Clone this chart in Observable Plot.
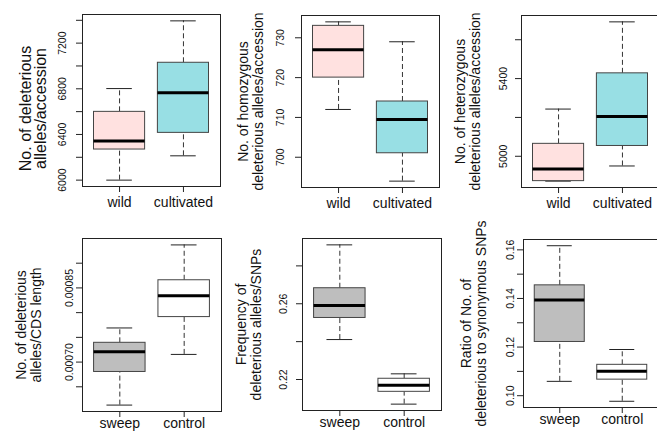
<!DOCTYPE html>
<html><head><meta charset="utf-8">
<script src="https://cdn.jsdelivr.net/npm/d3@7"></script>
<script src="https://cdn.jsdelivr.net/npm/@observablehq/plot@0.6"></script>
<style>
html,body{margin:0;padding:0;background:#fff;}
#chart{position:relative;width:657px;height:435px;overflow:hidden;background:#fff;}
#chart svg{position:absolute;}
</style></head><body><div id="chart"></div>
<script>
// ---- data ----
const topCategories = ["wild", "cultivated"];
const bottomCategories = ["sweep", "control"];
// five-number summaries: [lower whisker, lower hinge, median, upper hinge, upper whisker]
const delAllelesWild = [6000, 6268, 6342, 6598, 6802];
const delAllelesCultivated = [6213, 6414, 6766, 7028, 7395];
const homDelWild = [712, 720, 727, 733, 734];
const homDelCultivated = [694, 701, 709.5, 714, 729];
const hetDelWild = [4872, 4872, 4934, 5064, 5243];
const hetDelCultivated = [4950, 5053, 5205, 5427, 5692];
const cdsSweep = [0.000613, 0.000680, 0.000721, 0.000739, 0.000769];
const cdsControl = [0.0007155, 0.000791, 0.000834, 0.0008655, 0.000937];
const freqSweep = [0.2411, 0.2525, 0.2591, 0.2682, 0.2911];
const freqControl = [0.2070, 0.2135, 0.2170, 0.2204, 0.2230];
const ratioSweep = [0.1059, 0.1221, 0.1394, 0.1454, 0.1617];
const ratioControl = [0.0977, 0.1066, 0.1101, 0.1127, 0.1190];

// axis ticks and tick labels
const p1Ticks = [6000, 6200, 6400, 6600, 6800, 7000, 7200, 7400];
const p1TickLabels = ["6000", "6400", "6800", "7200"];
const p2Ticks = [700, 710, 720, 730];
const p2TickLabels = ["700", "710", "720", "730"];
const p3Ticks = [5000, 5200, 5400, 5600];
const p3TickLabels = ["5000", "5400"];
const p4Ticks = [0.00065, 0.0007, 0.00075, 0.0008, 0.00085, 0.0009];
const p4TickLabels = ["0.00070", "0.00085"];
const p5Ticks = [0.22, 0.24, 0.26, 0.28];
const p5TickLabels = ["0.22", "0.26"];
const p6Ticks = [0.10, 0.11, 0.12, 0.13, 0.14, 0.15, 0.16];
const p6TickLabels = ["0.10", "0.12", "0.14", "0.16"];

const yTitles = [
  "No. of deleterious\nalleles/accession",
  "No. of homozygous\ndeleterious alleles/accession",
  "No. of heterozygous\ndeleterious alleles/accession",
  "No. of deleterious\nalleles/CDS length",
  "Frequency of\ndeleterious alleles/SNPs",
  "Ratio of No. of\ndeleterious to synonymous SNPs"
];

// ---- styles / layout ----
const FONT = "'Liberation Sans', Arial, Helvetica, sans-serif";
const topFills = ["#FFE1E0", "#98DFE4"];
const bottomFills = ["#BEBEBE", "#FFFFFF"];
// frame: [left, top, width, height]
const layout = [
  {frame: [82, 14, 138, 172], nameDy: 20.5, tickDx: -20, titleDx: -49, titleDy: 8, titleSize: 16},
  {frame: [301, 15, 138, 172], nameDy: 20.5, tickDx: -21, titleDx: -50.5, titleDy: 0, titleSize: 14},
  {frame: [521, 15, 138, 172], nameDy: 20.5, tickDx: -18, titleDx: -53.5, titleDy: 0, titleSize: 14},
  {frame: [82, 238, 139, 173], nameDy: 16.5, tickDx: -13, titleDx: -54, titleDy: 0, titleSize: 14},
  {frame: [302, 238, 139, 172], nameDy: 16.5, tickDx: -18.5, titleDx: -54, titleDy: 0, titleSize: 14},
  {frame: [523, 239, 135, 168], nameDy: 16.5, tickDx: -13, titleDx: -49.5, titleDy: 0, titleSize: 14}
];

const panels = [
  {cats: topCategories, series: [delAllelesWild, delAllelesCultivated], ticks: p1Ticks, labels: p1TickLabels, fills: topFills},
  {cats: topCategories, series: [homDelWild, homDelCultivated], ticks: p2Ticks, labels: p2TickLabels, fills: topFills},
  {cats: topCategories, series: [hetDelWild, hetDelCultivated], ticks: p3Ticks, labels: p3TickLabels, fills: topFills},
  {cats: bottomCategories, series: [cdsSweep, cdsControl], ticks: p4Ticks, labels: p4TickLabels, fills: bottomFills},
  {cats: bottomCategories, series: [freqSweep, freqControl], ticks: p5Ticks, labels: p5TickLabels, fills: bottomFills},
  {cats: bottomCategories, series: [ratioSweep, ratioControl], ticks: p6Ticks, labels: p6TickLabels, fills: bottomFills}
];

const chart = document.getElementById("chart");

panels.forEach((p, k) => {
  const L = layout[k];
  const [fl, ft, fw, fh] = L.frame;
  const mL = 80, mT = 4, mB = 30, mR = 2;
  const rows = p.series.map((s, i) => ({
    i: i + 1, name: p.cats[i], lo: s[0], q1: s[1], med: s[2], q3: s[3], hi: s[4], fill: p.fills[i]
  }));
  const lo = d3.min(p.series, s => s[0]);
  const hi = d3.max(p.series, s => s[4]);
  const r = hi - lo;
  const boxMarks = rows.map(d => Plot.rect([d], {
    x1: d => d.i - 0.4, x2: d => d.i + 0.4, y1: "q1", y2: "q3",
    fill: d.fill, stroke: "#444", strokeWidth: 1
  }));
  const svg = Plot.plot({
    width: mL + fw + mR,
    height: mT + fh + mB,
    marginLeft: mL, marginRight: mR, marginTop: mT, marginBottom: mB,
    x: {domain: [0.42, 2.58]},
    y: {domain: [lo - 0.04 * r, hi + 0.04 * r]},
    style: {background: "transparent", fontFamily: FONT, fontSize: "14px", maxWidth: "none", overflow: "visible", color: "#111"},
    marks: [
      // whiskers
      Plot.ruleX(rows, {x: "i", y1: "q3", y2: "hi", stroke: "#333", strokeDasharray: "5,3"}),
      Plot.ruleX(rows, {x: "i", y1: "lo", y2: "q1", stroke: "#333", strokeDasharray: "5,3"}),
      // staples
      Plot.ruleY(rows, {y: "hi", x1: d => d.i - 0.2, x2: d => d.i + 0.2, stroke: "#222"}),
      Plot.ruleY(rows, {y: "lo", x1: d => d.i - 0.2, x2: d => d.i + 0.2, stroke: "#222"}),
      ...boxMarks,
      // medians
      Plot.ruleY(rows, {y: "med", x1: d => d.i - 0.4, x2: d => d.i + 0.4, stroke: "#000", strokeWidth: 3}),
      Plot.frame({stroke: "#222"}),
      Plot.axisY({ticks: p.ticks, tickSize: 6, tickFormat: () => "", label: null, stroke: "#222"}),
      Plot.text(p.labels, {y: d => +d, text: d => d, frameAnchor: "left", textAnchor: "middle", rotate: -90, dx: L.tickDx, fontSize: 10.5, fill: "#111"}),
      Plot.axisX({ticks: [1, 2], tickSize: 6, tickFormat: () => "", label: null, stroke: "#222"}),
      Plot.text(rows, {x: "i", text: "name", frameAnchor: "bottom", lineAnchor: "bottom", dy: L.nameDy, fontSize: 14, fill: "#111"}),
      Plot.text([yTitles[k]], {text: d => d, frameAnchor: "left", textAnchor: "middle", rotate: -90, dx: L.titleDx, dy: L.titleDy, lineHeight: 15.2 / L.titleSize, fontSize: L.titleSize, fill: "#111"})
    ]
  });
  svg.style.left = (fl - mL) + "px";
  svg.style.top = (ft - mT) + "px";
  chart.appendChild(svg);
});
</script></body></html>
